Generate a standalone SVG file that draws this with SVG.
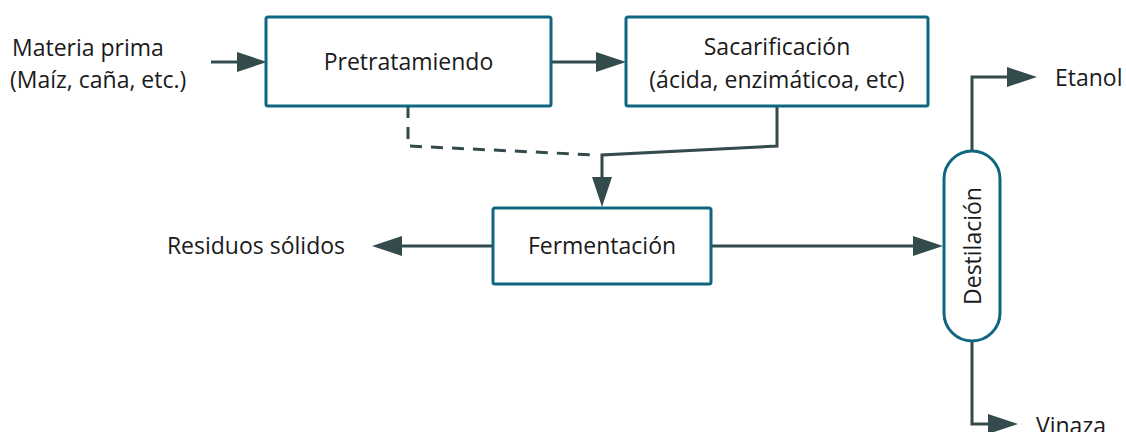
<svg xmlns="http://www.w3.org/2000/svg" width="1126" height="432" viewBox="0 0 1126 432">
<style>
.box{fill:#fff;stroke:#0f6680;stroke-width:3}
.ln{fill:none;stroke:#344b4d;stroke-width:3}
.dash{stroke-dasharray:12 9}
text{font-family:"Open Sans","Noto Sans",sans-serif;font-size:23px;fill:#1a1a1a}
.c{text-anchor:middle}
</style>
<defs>
<path id="arrowhead" d="M0,-10 L30,0 L0,10 Z" fill="#344b4d"/>
</defs>
<rect width="1126" height="432" fill="#fff"/>
<g id="connectors">
<line class="ln" x1="211" y1="62" x2="240" y2="62"/>
<use href="#arrowhead" x="237" y="62"/>
<line class="ln" x1="551" y1="62" x2="598" y2="62"/>
<use href="#arrowhead" x="596" y="62"/>
<polyline class="ln dash" points="408,106 408,146 596,155"/>
<polyline class="ln" points="777,106 777,146 602,155 602,180"/>
<use href="#arrowhead" transform="translate(602,177) rotate(90)"/>
<line class="ln" x1="493" y1="246" x2="400" y2="246"/>
<use href="#arrowhead" transform="translate(402,246) rotate(180)"/>
<line class="ln" x1="711" y1="246" x2="916" y2="246"/>
<use href="#arrowhead" x="913" y="246"/>
<polyline class="ln" points="972,150 972,77 1009,77"/>
<use href="#arrowhead" x="1007" y="77"/>
<polyline class="ln" points="972,341 972,424 990,424"/>
<use href="#arrowhead" x="988" y="424"/>
</g>
<g id="materia">
<text x="12" y="56">Materia prima</text>
<text x="10" y="88">(Maíz, caña, etc.)</text>
</g>
<g id="pretratamiendo">
<rect class="box" x="266" y="17" width="285" height="89" rx="2"/>
<text class="c" x="408.5" y="70">Pretratamiendo</text>
</g>
<g id="sacarificacion">
<rect class="box" x="626" y="17" width="302" height="89" rx="2"/>
<text class="c" x="777" y="55">Sacarificación</text>
<text class="c" x="777" y="88">(ácida, enzimáticoa, etc)</text>
</g>
<g id="fermentacion">
<rect class="box" x="493" y="208" width="218" height="76" rx="2"/>
<text class="c" x="602" y="254">Fermentación</text>
</g>
<g id="residuos">
<text x="345" y="254" text-anchor="end">Residuos sólidos</text>
</g>
<g id="destilacion">
<rect class="box" x="944" y="151" width="56" height="190" rx="28"/>
<text class="c" transform="translate(981,246) rotate(-90)">Destilación</text>
</g>
<g id="etanol">
<text x="1055" y="86">Etanol</text>
</g>
<g id="vinaza">
<text x="1036" y="434">Vinaza</text>
</g>
</svg>
